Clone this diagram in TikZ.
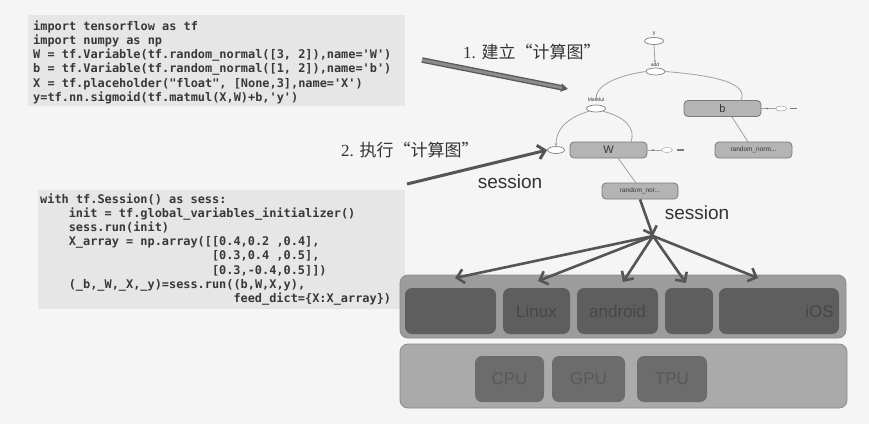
\documentclass[tikz,border=0pt]{standalone}
\usepackage{fontspec}
\setmainfont{Liberation Serif}
\newfontfamily\codefont{DejaVu Sans Mono}
\newfontfamily\cjk{Noto Sans CJK SC}
\newfontfamily\sansf{Liberation Sans}
\usetikzlibrary{arrows.meta,shapes.geometric}
\definecolor{pagebg}{HTML}{F5F5F5}
\definecolor{codebg}{HTML}{E6E6E6}
\definecolor{codecol}{HTML}{383838}
\definecolor{txtcol}{HTML}{333333}
\definecolor{arrcol}{HTML}{555555}
\definecolor{bigdark}{HTML}{5A5A5A}
\definecolor{biglight}{HTML}{8C8C8C}
\definecolor{gboxfill}{HTML}{B4B4B4}
\definecolor{gboxdraw}{HTML}{7A7A7A}
\definecolor{gedgecol}{HTML}{A0A0A0}
\definecolor{platfill}{HTML}{9C9C9C}
\definecolor{platdraw}{HTML}{8A8A8A}
\definecolor{osfill}{HTML}{5E5E5E}
\definecolor{ostext}{HTML}{474747}
\definecolor{hwbarfill}{HTML}{AAAAAA}
\definecolor{hwfill}{HTML}{6C6C6C}
\definecolor{hwtext}{HTML}{595959}
\begin{document}
\begin{tikzpicture}[x=1pt,y=-1pt,
  code/.style={font=\codefont\bfseries\fontsize{11.9}{14}\selectfont, text=codecol, inner sep=0pt, anchor=base west},
  bigtext/.style={font=\fontsize{17}{20}\selectfont, text=txtcol, inner sep=0pt, anchor=west},
  sess/.style={font=\sansf\fontsize{19}{22}\selectfont, text=txtcol, inner sep=0pt},
  gbox/.style={draw=gboxdraw, fill=gboxfill, rounded corners=4pt, line width=0.8pt, minimum height=16pt, inner sep=0pt, font=\sansf\fontsize{11}{12}\selectfont, text=txtcol},
  gsmall/.style={gbox, font=\sansf\fontsize{6.5}{7}\selectfont},
  gell/.style={ellipse, draw=gedgecol!80!black, fill=white, line width=0.7pt, minimum width=19pt, minimum height=7pt, inner sep=0pt},
  initell/.style={ellipse, draw=gedgecol, fill=white, line width=0.5pt, minimum width=11pt, minimum height=5pt, inner sep=0pt},
  glabel/.style={font=\sansf\fontsize{5}{5}\selectfont, text=txtcol, inner sep=0pt},
  gedge/.style={draw=gedgecol, line width=0.8pt},
  gtip/.style={-{Stealth[length=3pt,width=2.5pt]}},
  fan/.style={draw=arrcol, line width=2.6pt, -{Straight Barb[length=7pt,width=14pt]}},
  plat/.style={draw=platdraw, fill=platfill, rounded corners=8pt, line width=0.8pt, inner sep=0pt},
  osbox/.style={fill=osfill, rounded corners=7pt, inner sep=0pt, minimum height=46pt, font=\sansf\fontsize{17}{20}\selectfont, text=ostext},
  hwbar/.style={draw=platdraw, fill=hwbarfill, rounded corners=8pt, line width=0.8pt, inner sep=0pt},
  hwbox/.style={fill=hwfill, rounded corners=7pt, inner sep=0pt, minimum height=46pt, font=\sansf\fontsize{17}{20}\selectfont, text=hwtext}
]
\useasboundingbox (0,0) rectangle (869,424);
\fill[pagebg] (0,0) rectangle (869,424);

% code block 1
\fill[codebg] (28,15) rectangle (405,106);
\node[code] (c1) at (33,30.0) {import tensorflow as tf};
\node[code] (c2) at (33,44.3) {import numpy as np};
\node[code] (c3) at (33,58.6) {W = tf.Variable(tf.random\_normal([3, 2]),name='W')};
\node[code] (c4) at (33,72.9) {b = tf.Variable(tf.random\_normal([1, 2]),name='b')};
\node[code] (c5) at (33,87.2) {X = tf.placeholder("float", [None,3],name='X')};
\node[code] (c6) at (33,101.5) {y=tf.nn.sigmoid(tf.matmul(X,W)+b,'y')};

% code block 2
\fill[codebg] (38,190) rectangle (405,309);
\node[code] (d1) at (40,203.0) {with tf.Session() as sess:};
\node[code] (d2) at (68.6,217.2) {init = tf.global\_variables\_initializer()};
\node[code] (d3) at (68.6,231.4) {sess.run(init)};
\node[code] (d4) at (68.6,245.6) {X\_array = np.array([[0.4,0.2 ,0.4],};
\node[code] (d5) at (211.8,259.8) {[0.3,0.4 ,0.5],};
\node[code] (d6) at (211.8,274.0) {[0.3,-0.4,0.5]])};
\node[code] (d7) at (68.6,288.2) {(\_b,\_W,\_X,\_y)=sess.run((b,W,X,y),};
\node[code] (d8) at (233.3,302.4) {feed\_dict=\{X:X\_array\})};

% captions
\node[bigtext] (cap1) at (463,52) {1. {\cjk 建立“计算图”}};
\node[bigtext] (cap2) at (341,150) {2. {\cjk 执行“计算图”}};

% computation graph
\node[glabel] (ylab) at (654,34) {y};
\node[gell] (yn) at (654,41) {};
\node[glabel] (addlab) at (655,65) {add};
\node[gell] (addn) at (655.5,71.5) {};
\node[glabel] (mmlab) at (596,100) {MatMul};
\node[gell] (mm) at (596,108.5) {};
\node[gell, minimum width=17pt] (xn) at (556,150) {};
\node[gbox, minimum width=77pt] (bn) at (722.5,108.5) {b};
\node[gbox, minimum width=77pt] (wn) at (608.5,150) {W};
\node[gsmall, minimum width=77pt] (rn1) at (753.5,150) {random\_norm...};
\node[gsmall, minimum width=76pt] (rn2) at (640,191) {random\_nor...};

\draw[gedge, gtip] (yn.south) -- (addlab.north);
\draw[gedge] (addn.west) .. controls (615,76) and (596,86) .. (mmlab.north);
\draw[gedge] (addn.east) .. controls (720,76) and (748,84) .. (741,100.5);
\draw[gedge, gtip] (mm.south west) .. controls (566,118) and (556,130) .. (xn.north);
\draw[gedge] (mm.south east) .. controls (625,117) and (636,128) .. (631,142);
\draw[gedge] (618,158) -- (636,183);
\draw[gedge] (732,117) -- (748,142);

% init markers
\node[initell] (wi) at (667,150) {};
\draw[gedge] (wn.east) -- (wi.west);
\fill[gedgecol!70!black] (653,150) circle (1pt);
\draw[line width=1.4pt, draw=gboxdraw] (677,150) -- (684,150);
\node[initell] (bi) at (781,108.5) {};
\draw[gedge] (bn.east) -- (bi.west);
\fill[gedgecol!70!black] (767,108.5) circle (1pt);
\draw[line width=1.4pt, draw=gboxdraw] (790,108.5) -- (797,108.5);

% big arrows
\coordinate (a1s) at (422,60);
\coordinate (a1e) at (568,89);
\draw[line width=5.5pt, draw=bigdark, -{Triangle[length=7pt,width=8pt]}] (a1s) -- (a1e);
\draw[line width=2.8pt, draw=biglight, shorten >=6pt] (a1s) -- (a1e);

\coordinate (a2s) at (407,184);
\draw[fan, line width=3pt] (a2s) -- (xn.west);

\node[sess] (s1) at (510,182) {session};
\node[sess] (s2) at (697,213) {session};

% platforms
\node[plat, minimum width=446pt, minimum height=63pt] (platbar) at (623,306.5) {};
\node[osbox, minimum width=91pt] (os1) at (450.5,311) {};
\node[osbox, minimum width=67pt] (os2) at (536.5,311) {Linux};
\node[osbox, minimum width=81pt] (os3) at (617.5,311) {android};
\node[osbox, minimum width=48pt] (os4) at (689,311) {};
\node[osbox, minimum width=120pt] (os5) at (779,311) {};
\node[font=\sansf\fontsize{17}{20}\selectfont, text=ostext, inner sep=0pt, anchor=east] (ios) at (834,311) {iOS};

\node[hwbar, minimum width=447pt, minimum height=64pt] (hwb) at (623.5,376) {};
\node[hwbox, minimum width=69pt] (cpu) at (509.5,379) {CPU};
\node[hwbox, minimum width=73pt] (gpu) at (588.5,379) {GPU};
\node[hwbox, minimum width=70pt] (tpu) at (672,379) {TPU};

% session fan
\coordinate (fanc) at (653,236);
\draw[fan] (rn2.south) -- (fanc);
\coordinate (t1) at (455,278);
\coordinate (t2) at (538,281);
\coordinate (t3) at (623,282);
\coordinate (t4) at (686,283);
\coordinate (t5) at (758,278);
\foreach \t in {t1,t2,t3,t4,t5} \draw[fan] (fanc) -- (\t);
\end{tikzpicture}
\end{document}
